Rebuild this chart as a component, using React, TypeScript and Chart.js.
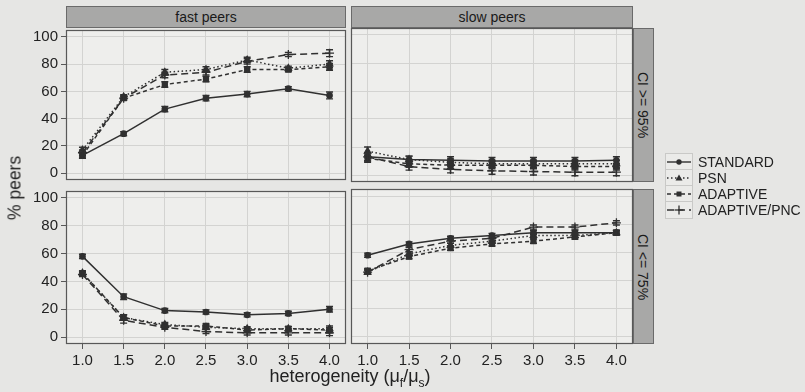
import React, { useEffect, useRef } from "react";
import { Chart, registerables } from "chart.js";

Chart.register(...registerables);

// ---------- data ----------
const heterogeneity = [1.0, 1.5, 2.0, 2.5, 3.0, 3.5, 4.0];
const yTicks = [0, 20, 40, 60, 80, 100];
const seriesNames = ["STANDARD", "PSN", "ADAPTIVE", "ADAPTIVE/PNC"];
const columnLabels = ["fast peers", "slow peers"];
const rowLabels = ["CI >= 95%", "CI <= 75%"];

// fast peers, CI >= 95%
const fastHighStandard = [13, 29, 47, 55, 58, 62, 57];
const fastHighPsn = [17, 56, 74, 76, 83, 77, 80];
const fastHighAdaptive = [13, 55, 65, 69, 76, 76, 78];
const fastHighPnc = [15, 55, 72, 74, 82, 87, 88];
const fastHighErr = [2, 1.5, 2, 2, 2, 1.5, 2.5];

// slow peers, CI >= 95%
const slowHighStandard = [13, 11, 10.5, 10, 10, 10, 10.5];
const slowHighPsn = [17, 11, 9, 8, 8, 8, 8];
const slowHighAdaptive = [12, 8, 7, 7, 7, 6, 6];
const slowHighPnc = [13, 6, 4, 3, 2.5, 2, 2];
const slowHighErr = [3, 2.5, 2.5, 2.5, 2.5, 2.5, 2.5];

// fast peers, CI <= 75%
const fastLowStandard = [58, 29, 19, 18, 16, 17, 20];
const fastLowPsn = [46, 14, 9, 7, 6, 6, 6];
const fastLowAdaptive = [46, 14, 8, 8, 5, 6, 5];
const fastLowPnc = [45, 12, 7, 4, 3, 3, 3];
const fastLowErr = [1.5, 2, 1.5, 1.5, 1.5, 1.5, 2];

// slow peers, CI <= 75%
const slowLowStandard = [58, 66, 70, 72, 74, 74, 74];
const slowLowPsn = [46, 59, 65, 68, 72, 72, 74];
const slowLowAdaptive = [47, 57, 63, 66, 68, 71, 74];
const slowLowPnc = [46, 62, 68, 70, 78, 78, 81];
const slowLowErr = [1.5, 1.5, 1.5, 1.5, 1.5, 1.5, 1.5];

// ---------- style ----------
const FONT = '"Liberation Sans", Arial, Helvetica, sans-serif';
const PAGE_BG = "#e6e6e4";
const PANEL_BG = "#eeeeec";
const GRID = "#d3d3d1";
const BORDER = "#585858";
const STRIP_BG = "#a8a8a7";
const STRIP_BORDER = "#6a6a6a";
const INK = "#303030";
const TEXT = "#222222";
const PAD = 10;

const seriesStyles = [
  { dash: [] as number[], point: "circle", radius: 2.7 },
  { dash: [1.5, 2.5], point: "triangle", radius: 3.7 },
  { dash: [4, 3], point: "rect", radius: 3.5 },
  { dash: [7, 4], point: "cross", radius: 4.5 },
];

type PanelSpec = {
  key: string;
  L: number;
  T: number;
  R: number;
  B: number;
  showY: boolean;
  showX: boolean;
  series: number[][];
  errors: number[];
};

const panels: PanelSpec[] = [
  { key: "fh", L: 66, T: 28, R: 346, B: 182, showY: true, showX: false,
    series: [fastHighStandard, fastHighPsn, fastHighAdaptive, fastHighPnc], errors: fastHighErr },
  { key: "sh", L: 351, T: 28, R: 633, B: 182, showY: false, showX: false,
    series: [slowHighStandard, slowHighPsn, slowHighAdaptive, slowHighPnc], errors: slowHighErr },
  { key: "fl", L: 66, T: 189, R: 346, B: 344, showY: true, showX: true,
    series: [fastLowStandard, fastLowPsn, fastLowAdaptive, fastLowPnc], errors: fastLowErr },
  { key: "sl", L: 351, T: 189, R: 633, B: 344, showY: false, showX: true,
    series: [slowLowStandard, slowLowPsn, slowLowAdaptive, slowLowPnc], errors: slowLowErr },
];

const Y_AXIS_W = 66;
const X_AXIS_H = 28;

const panelPlugin = {
  id: "panelDecor",
  beforeDraw(chart: any) {
    const { ctx, chartArea } = chart;
    ctx.save();
    ctx.fillStyle = PANEL_BG;
    ctx.fillRect(chartArea.left, chartArea.top, chartArea.right - chartArea.left, chartArea.bottom - chartArea.top);
    ctx.restore();
  },
  afterDatasetsDraw(chart: any) {
    const { ctx } = chart;
    const xs = chart.scales.x;
    const ys = chart.scales.y;
    ctx.save();
    chart.data.datasets.forEach((ds: any) => {
      const errs: number[] = ds.errors || [];
      ctx.strokeStyle = ds.borderColor;
      ctx.lineWidth = 1.4;
      ctx.setLineDash([]);
      ds.data.forEach((p: any, j: number) => {
        const e = errs[j] || 0;
        const px = xs.getPixelForValue(p.x);
        const y1 = ys.getPixelForValue(p.y - e);
        const y2 = ys.getPixelForValue(p.y + e);
        ctx.beginPath();
        ctx.moveTo(px, y1);
        ctx.lineTo(px, y2);
        ctx.moveTo(px - 3.5, y1);
        ctx.lineTo(px + 3.5, y1);
        ctx.moveTo(px - 3.5, y2);
        ctx.lineTo(px + 3.5, y2);
        ctx.stroke();
      });
    });
    ctx.restore();
  },
  afterDraw(chart: any) {
    const { ctx, chartArea } = chart;
    ctx.save();
    ctx.strokeStyle = BORDER;
    ctx.lineWidth = 1.2;
    ctx.setLineDash([]);
    ctx.strokeRect(chartArea.left + 0.5, chartArea.top + 0.5, chartArea.right - chartArea.left - 1, chartArea.bottom - chartArea.top - 1);
    ctx.restore();
  },
};

function geometry(p: PanelSpec) {
  const wy = p.showY ? Y_AXIS_W : 0;
  const hx = p.showX ? X_AXIS_H : 0;
  return {
    left: p.L - wy - PAD,
    top: p.T - PAD,
    width: p.R - p.L + wy + 2 * PAD,
    height: p.B - p.T + hx + 2 * PAD,
  };
}

function Panel({ spec }: { spec: PanelSpec }) {
  const ref = useRef<HTMLCanvasElement | null>(null);
  useEffect(() => {
    if (!ref.current) return;
    const datasets = seriesNames.map((name, i) => ({
      label: name,
      data: heterogeneity.map((x, j) => ({ x, y: spec.series[i][j] })),
      borderColor: INK,
      backgroundColor: INK,
      borderWidth: 1.5,
      borderDash: seriesStyles[i].dash,
      pointStyle: seriesStyles[i].point,
      pointRadius: seriesStyles[i].radius,
      pointBorderWidth: 1.3,
      tension: 0,
      errors: spec.errors,
    }));
    const chart = new Chart(ref.current, {
      type: "line",
      data: { datasets } as any,
      plugins: [panelPlugin],
      options: {
        animation: false,
        responsive: false,
        maintainAspectRatio: false,
        layout: { padding: PAD },
        plugins: { legend: { display: false }, tooltip: { enabled: false } },
        scales: {
          x: {
            type: "linear",
            min: 0.8,
            max: 4.2,
            afterBuildTicks: (s: any) => {
              s.ticks = heterogeneity.map((v) => ({ value: v }));
            },
            afterFit: (s: any) => {
              s.height = spec.showX ? X_AXIS_H : 0;
            },
            ticks: {
              display: spec.showX,
              autoSkip: false,
              maxRotation: 0,
              padding: 3,
              color: TEXT,
              font: { family: FONT, size: 15 },
              callback: (v: any) => Number(v).toFixed(1),
            },
            grid: { color: GRID, lineWidth: 1, drawTicks: spec.showX, tickLength: 5, tickColor: BORDER },
            border: { display: false },
          },
          y: {
            type: "linear",
            min: -5,
            max: 105,
            afterBuildTicks: (s: any) => {
              s.ticks = yTicks.map((v) => ({ value: v }));
            },
            afterFit: (s: any) => {
              s.width = spec.showY ? Y_AXIS_W : 0;
            },
            ticks: {
              display: spec.showY,
              padding: 3,
              color: TEXT,
              font: { family: FONT, size: 15 },
              callback: (v: any) => String(v),
            },
            grid: { color: GRID, lineWidth: 1, drawTicks: spec.showY, tickLength: 5, tickColor: BORDER },
            border: { display: false },
          },
        },
      } as any,
    });
    return () => chart.destroy();
  }, [spec]);
  const g = geometry(spec);
  return (
    <canvas
      ref={ref}
      width={g.width}
      height={g.height}
      style={{ position: "absolute", left: g.left, top: g.top, width: g.width, height: g.height }}
    />
  );
}

function LegendKey({ idx }: { idx: number }) {
  const st = seriesStyles[idx];
  const dash = st.dash.length ? st.dash.join(",") : undefined;
  let marker: React.ReactNode = null;
  if (st.point === "circle") marker = <circle cx={13} cy={8} r={2.7} fill={INK} />;
  if (st.point === "triangle") marker = <polygon points="13,4.5 16.5,10.5 9.5,10.5" fill={INK} />;
  if (st.point === "rect") marker = <rect x={10.5} y={5.5} width={5} height={5} fill={INK} />;
  if (st.point === "cross")
    marker = (
      <g stroke={INK} strokeWidth={1.3}>
        <line x1={13} y1={3.5} x2={13} y2={12.5} />
        <line x1={8.5} y1={8} x2={17.5} y2={8} />
      </g>
    );
  return (
    <svg width={26} height={16} style={{ display: "block" }}>
      <line x1={1} y1={8} x2={25} y2={8} stroke={INK} strokeWidth={1.4} strokeDasharray={dash} />
      {marker}
    </svg>
  );
}

export default function App() {
  const strip = {
    position: "absolute" as const,
    background: STRIP_BG,
    border: `1px solid ${STRIP_BORDER}`,
    boxSizing: "border-box" as const,
    display: "flex",
    alignItems: "center",
    justifyContent: "center",
    fontSize: 14,
    color: "#1a1a1a",
    fontFamily: FONT,
    whiteSpace: "nowrap" as const,
  };
  return (
    <div
      style={{
        position: "fixed",
        left: 0,
        top: 0,
        width: 805,
        height: 392,
        background: PAGE_BG,
        overflow: "hidden",
        fontFamily: FONT,
      }}
    >
      {panels.map((p) => (
        <Panel key={p.key} spec={p} />
      ))}
      {/* column strips */}
      <div style={{ ...strip, left: 66, top: 6, width: 280, height: 22 }}>{columnLabels[0]}</div>
      <div style={{ ...strip, left: 351, top: 6, width: 282, height: 22 }}>{columnLabels[1]}</div>
      {/* row strips */}
      <div style={{ ...strip, left: 633, top: 28, width: 21, height: 154 }}>
        <span style={{ transform: "rotate(90deg)", display: "inline-block" }}>{rowLabels[0]}</span>
      </div>
      <div style={{ ...strip, left: 633, top: 189, width: 21, height: 155 }}>
        <span style={{ transform: "rotate(90deg)", display: "inline-block" }}>{rowLabels[1]}</span>
      </div>
      {/* y title */}
      <div
        style={{
          position: "absolute",
          left: 15,
          top: 188,
          transform: "translate(-50%, -50%) rotate(-90deg)",
          fontSize: 17.5,
          color: TEXT,
          whiteSpace: "nowrap",
        }}
      >
        % peers
      </div>
      {/* x title */}
      <div
        style={{
          position: "absolute",
          left: 350,
          top: 378,
          transform: "translate(-50%, -50%)",
          fontSize: 18,
          color: TEXT,
          whiteSpace: "nowrap",
        }}
      >
        heterogeneity (μ<sub style={{ fontSize: 12 }}>f</sub>/μ<sub style={{ fontSize: 12 }}>s</sub>)
      </div>
      {/* legend */}
      <div style={{ position: "absolute", left: 665, top: 154 }}>
        {seriesNames.map((n, i) => (
          <div key={n} style={{ display: "flex", alignItems: "center", height: 16 }}>
            <div style={{ border: "1px solid #c9c9c7", background: "#ebebe9", marginTop: -1 }}>
              <LegendKey idx={i} />
            </div>
            <span style={{ marginLeft: 5, fontSize: 14, color: TEXT, whiteSpace: "nowrap" }}>{n}</span>
          </div>
        ))}
      </div>
    </div>
  );
}
